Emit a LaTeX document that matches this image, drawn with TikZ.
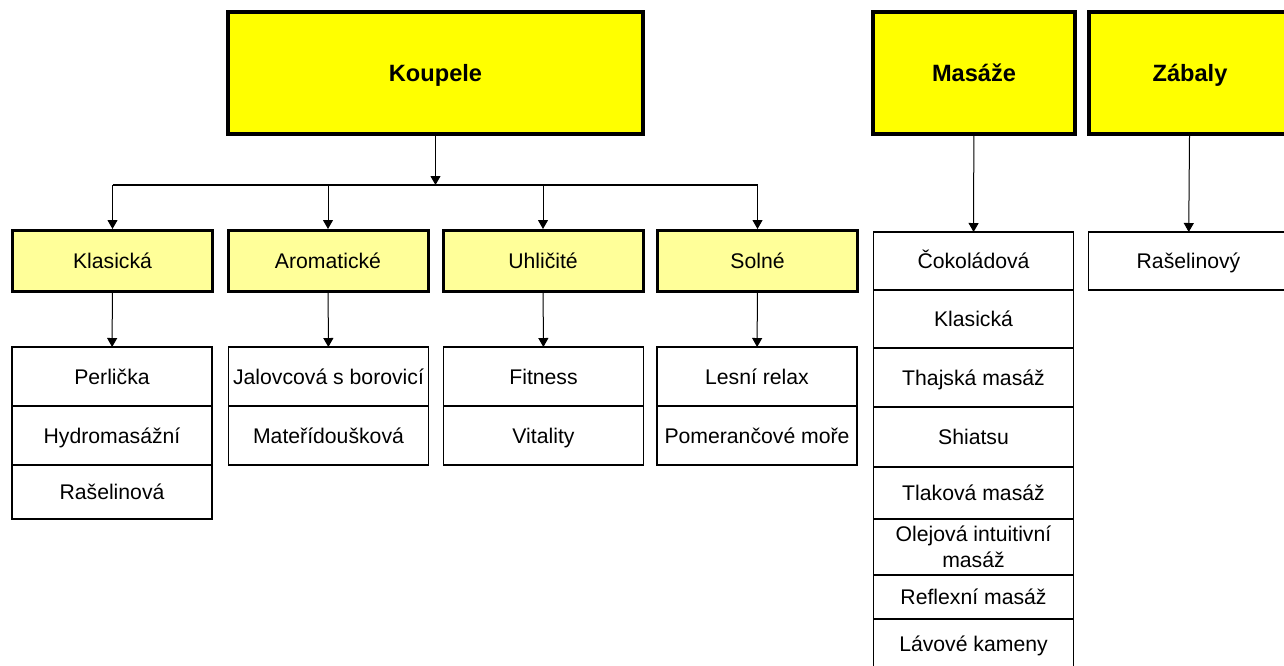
\documentclass[tikz,border=0pt]{standalone}
\usepackage{fontspec}
\setmainfont{Liberation Sans}
\usetikzlibrary{positioning,arrows.meta}
\definecolor{topyellow}{RGB}{255,255,0}
\definecolor{paleyellow}{RGB}{255,255,153}

\begin{document}
\begin{tikzpicture}[x=0.5pt, y=-0.5pt,
  font=\fontsize{10.6}{13}\selectfont,
  head/.style={rectangle, draw=black, line width=2pt, fill=topyellow, minimum width=101pt, minimum height=61pt, text height=10pt, text depth=1.5pt, font=\fontsize{11.8}{14}\selectfont\bfseries},
  group/.style={rectangle, draw=black, line width=1.5pt, fill=paleyellow, minimum width=100pt, minimum height=30.5pt, text height=9pt, text depth=1.4pt},
  item/.style={rectangle, draw=black, line width=0.75pt, fill=white, minimum width=100pt, minimum height=29.5pt, outer sep=0pt, inner sep=1pt, align=center, text height=9pt, text depth=1.4pt},
  link/.style={-{Triangle[width=5pt,length=4.5pt]}, line width=0.5pt},
]
\useasboundingbox (0,0) rectangle (1284,665);

\node(K) [head, minimum width=207.5pt] at (435.5,73) {Koupele};
\node(M) [head] at (974,73) {Masáže};
\node(Z) [head] at (1190,73) {Zábaly};

\node(K1) [group] at (112.5,261) {Klasická};
\node(K2) [group] at (328,261) {Aromatické};
\node(K3) [group] at (543,261) {Uhličité};
\node(K4) [group] at (757.5,261) {Solné};

\node(P1) [item,below] at (112,347) {Perlička};
\node(P2) [item,below] at (P1.south) {Hydromasážní};
\node(P3) [item,below,minimum height=27pt] at (P2.south) {Rašelinová};

\node(A1) [item,below] at (328.5,347) {Jalovcová s borovicí};
\node(A2) [item,below] at (A1.south) {Mateřídoušková};

\node(U1) [item,below] at (543.5,347) {Fitness};
\node(U2) [item,below] at (U1.south) {Vitality};

\node(S1) [item,below] at (757,347) {Lesní relax};
\node(S2) [item,below] at (S1.south) {Pomerančové moře};

\node(M1) [item,below,minimum height=29pt] at (973.5,232) {Čokoládová};
\node(M2) [item,below,minimum height=29pt] at (M1.south) {Klasická};
\node(M3) [item,below] at (M2.south) {Thajská masáž};
\node(M4) [item,below,minimum height=30pt] at (M3.south) {Shiatsu};
\node(M5) [item,below,minimum height=26pt] at (M4.south) {Tlaková masáž};
\node(M6) [item,below,minimum height=28pt,text height=,text depth=] at (M5.south) {Olejová intuitivní\\masáž};
\node(M7) [item,below,minimum height=22pt] at (M6.south) {Reflexní masáž};
\node(M8) [item,below,minimum height=25pt] at (M7.south) {Lávové kameny};

\node(Z1) [item,below,minimum height=29pt] at (1188.5,232) {Rašelinový};

\path (K.south) ++(0,49) coordinate (bar);
\draw[link] (K.south) -- (bar);
\draw[line width=0.6pt] (K1.north |- bar) -- (K4.north |- bar);
\foreach \g in {K1,K2,K3,K4}
  \draw[link] (\g.north |- bar) -- (\g.north);

\foreach \g/\i in {K1/P1,K2/A1,K3/U1,K4/S1}
  \draw[link] (\g) -- (\i);

\draw[link] (M) -- (M1);
\draw[link] (Z) -- (Z1);

\end{tikzpicture}
\end{document}
